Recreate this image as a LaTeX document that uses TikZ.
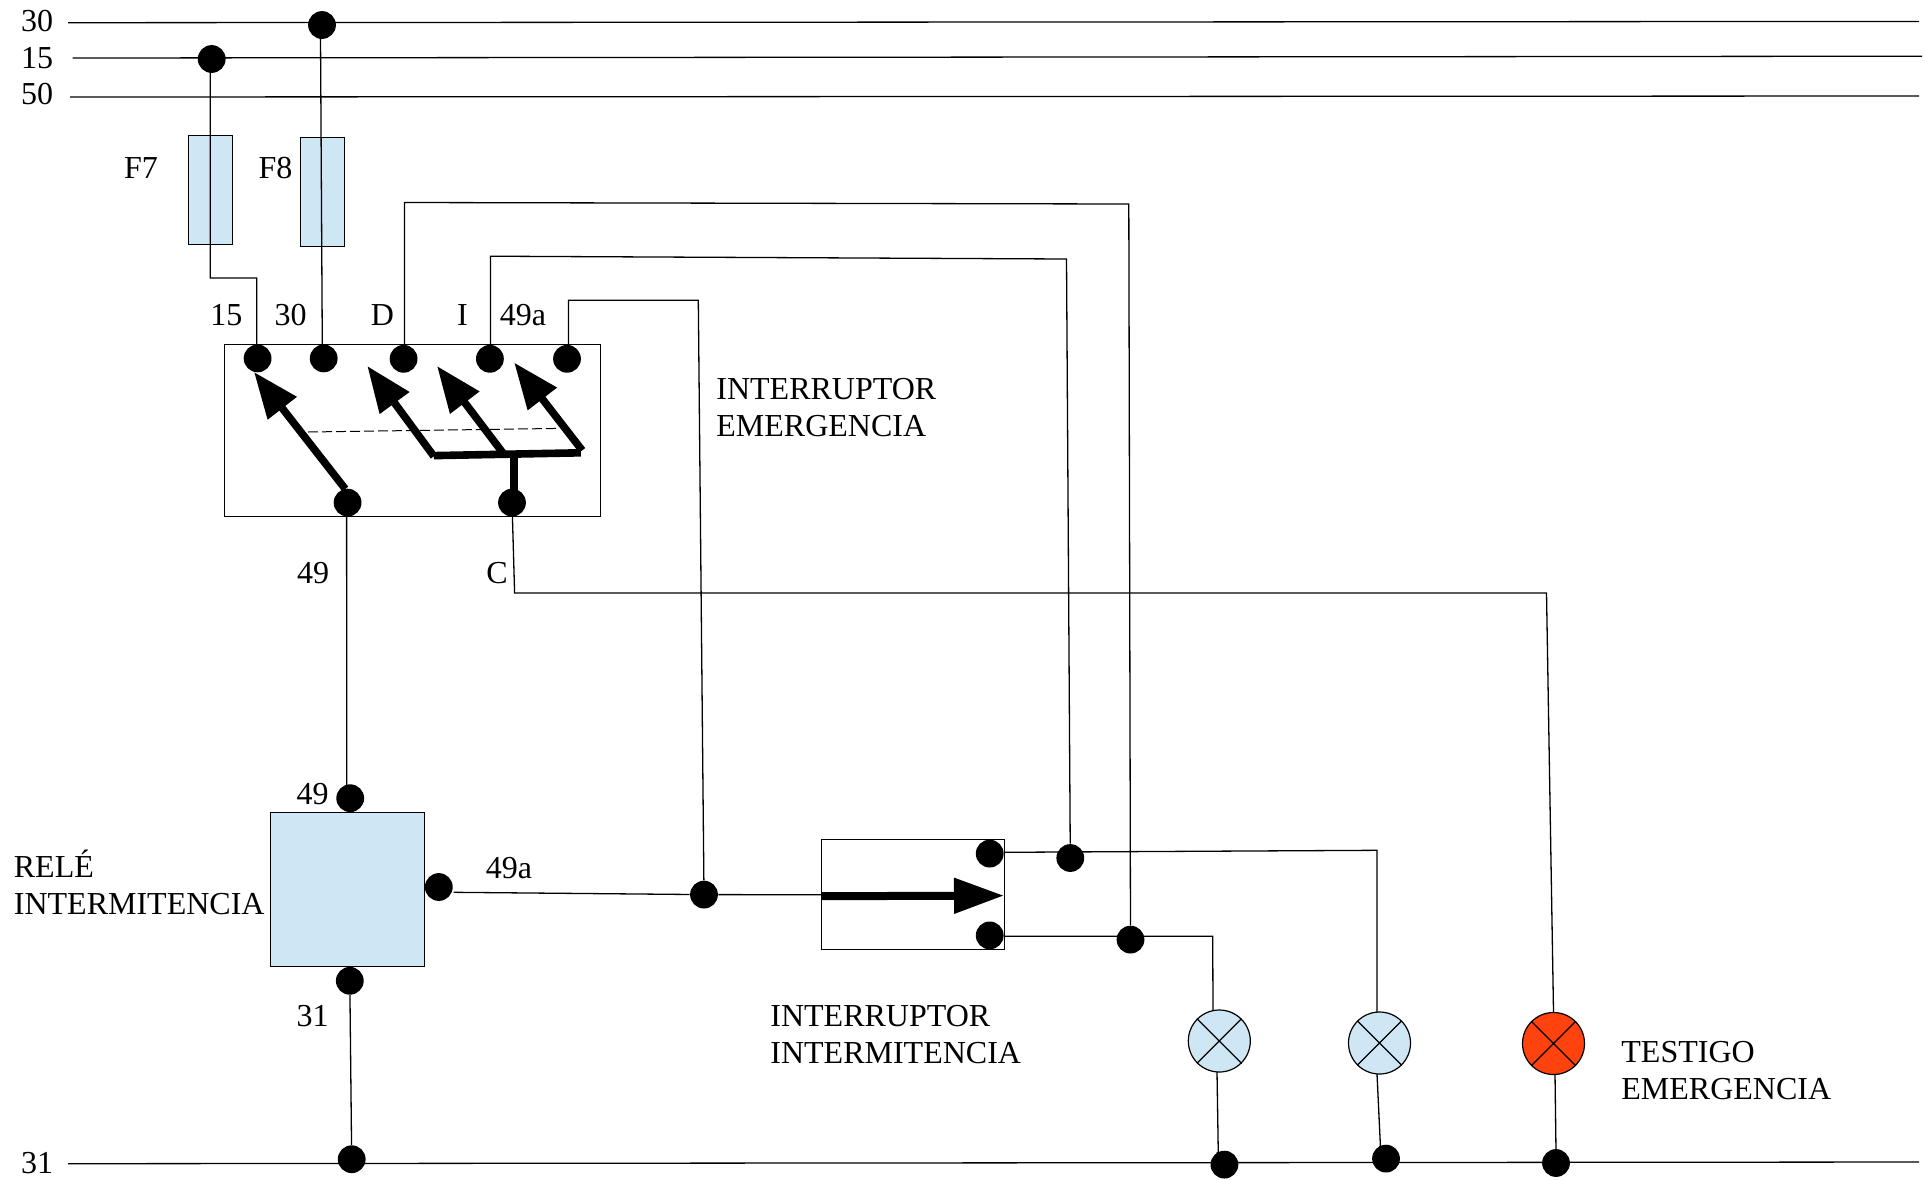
\documentclass[tikz,border=0pt]{standalone}
\usepackage{fontspec}
\setmainfont{Liberation Serif}
\usetikzlibrary{arrows.meta}
\definecolor{paleblue}{HTML}{CFE7F5}
\definecolor{lampred}{HTML}{FF420E}
\tikzset{
  wire/.style={draw=black,line width=0.65pt},
  dot/.style={circle,fill=black,draw=none,inner sep=0pt,minimum size=13.9pt},
  lamp/.style={circle,draw=black,line width=0.6pt,inner sep=0pt,minimum size=31pt},
  lampx/.style={draw=black,line width=0.6pt},
  fuse/.style={rectangle,draw=black,line width=0.6pt,fill=paleblue,inner sep=0pt,minimum width=22pt,minimum height=54.2pt},
  swbox/.style={rectangle,draw=black,line width=0.65pt,fill=white,inner sep=0pt},
  relay/.style={rectangle,draw=black,line width=0.6pt,fill=paleblue,inner sep=0pt,minimum width=76.9pt,minimum height=76.9pt},
  lab/.style={anchor=base,inner sep=0pt,font=\fontsize{16}{18.25}\selectfont},
  mlab/.style={anchor=north west,inner sep=0pt,align=left,font=\fontsize{16}{18.25}\selectfont},
  contact/.style={line width=3.8pt,-{Triangle[length=23pt,width=17.5pt]}},
  bar/.style={line width=3.8pt},
  mainarrow/.style={line width=4pt,-{Triangle[length=25pt,width=17pt]}}
}
\begin{document}
\begin{tikzpicture}[x=0.5pt,y=-0.5pt]
\useasboundingbox (0,0) rectangle (1926,1179);
% boxes
\node[fuse] (f7) at (210.2,190) {};
\node[fuse] (f8) at (322.3,192) {};
\node[swbox,minimum width=188pt,minimum height=85.9pt] (sw) at (412.5,430.6) {};
\node[relay] (rel) at (347.5,889.6) {};
\node[swbox,minimum width=91.6pt,minimum height=55pt] (iw) at (912.9,894.6) {};
% lamps
\node[lamp,fill=paleblue] (l1) at (1219.3,1041) {};
\node[lamp,fill=paleblue] (l2) at (1379.5,1043) {};
\node[lamp,fill=lampred] (l3) at (1553.5,1043.5) {};
\draw[lampx] (l1.135)--(l1.-45) (l1.45)--(l1.-135);
\draw[lampx] (l2.135)--(l2.-45) (l2.45)--(l2.-135);
\draw[lampx] (l3.135)--(l3.-45) (l3.45)--(l3.-135);
% dots
\node[dot] (b30) at (322,25) {};
\node[dot] (b15) at (211.7,59) {};
\node[dot] (t15) at (257.6,358.4) {};
\node[dot] (t30) at (323.7,358.4) {};
\node[dot] (tD) at (403.6,358.8) {};
\node[dot] (tI) at (489.9,358.8) {};
\node[dot] (t49a) at (567,358.8) {};
\node[dot] (s49) at (347.6,502.6) {};
\node[dot] (sC) at (512,502.6) {};
\node[dot] (r49) at (350.2,798.2) {};
\node[dot] (r49a) at (438.8,887) {};
\node[dot] (r31) at (349.8,980.8) {};
\node[dot] (b31) at (351.7,1159.2) {};
\node[dot] (j49a) at (704,894.6) {};
\node[dot] (i1) at (989.7,853.6) {};
\node[dot] (i2) at (989.7,935.4) {};
\node[dot] (jI) at (1070.3,858) {};
\node[dot] (jD) at (1130.5,939.6) {};
\node[dot] (g1) at (1224.4,1164.6) {};
\node[dot] (g2) at (1386,1158.6) {};
\node[dot] (g3) at (1556,1163) {};
% bus ends
\coordinate (bus30l) at (68,22.7); \coordinate (bus30r) at (1919,21.4);
\coordinate (bus15l) at (72.5,58); \coordinate (bus15r) at (1922,56.2);
\coordinate (bus50l) at (70,97); \coordinate (bus50r) at (1919,96);
\coordinate (bus31l) at (68,1163.7); \coordinate (bus31r) at (1919,1162);
\draw[wire] (bus30l)--(bus30r);
\draw[wire] (bus15l)--(bus15r);
\draw[wire] (bus50l)--(bus50r);
\draw[wire] (bus31l)--(bus31r);
% bends
\coordinate (w15a) at (210.3,278); \coordinate (w15b) at (256.7,278); \coordinate (w15c) at (256.7,344.4);
\coordinate (w15t) at (210.3,72);
\coordinate (w30t) at (320.5,36); \coordinate (w30b) at (322.3,344.4);
\coordinate (wDa) at (404.5,344.4); \coordinate (wDb) at (404.5,202.5); \coordinate (wDc) at (1128.8,204);
\coordinate (wIa) at (490.4,344.4); \coordinate (wIb) at (490.4,256.2); \coordinate (wIc) at (1066.5,259);
\coordinate (w49a) at (568.4,344.4); \coordinate (w49b) at (568.4,300.3); \coordinate (w49c) at (698.3,300.3);
\coordinate (w49t) at (346.6,516); \coordinate (w49e) at (346.8,785);
\coordinate (wCa) at (512.4,516); \coordinate (wCb) at (514.6,593); \coordinate (wCc) at (1546.5,593);
\coordinate (w49as) at (453.7,892.3); \coordinate (w49ae) at (821.3,894.7);
\coordinate (wTa) at (1004.5,852.3); \coordinate (wTb) at (1377,850.3); \coordinate (wTc) at (1377,1012);
\coordinate (wLa) at (1004.5,936.3); \coordinate (wLb) at (1212.7,936.3); \coordinate (wLc) at (1213,1010);
\coordinate (g1w) at (1218.3,1155); \coordinate (g2w) at (1380.5,1148); \coordinate (g3w) at (1556,1152);
\coordinate (l1b) at (1217,1071.7); \coordinate (l2b) at (1377,1074); \coordinate (l3b) at (1555,1074);
% wires
\draw[wire] (b15) -- (w15t) -- (w15a) -- (w15b) -- (w15c) -- (t15);
\draw[wire] (b30) -- (w30t) -- (w30b) -- (t30);
\draw[wire] (tD) -- (wDa) -- (wDb) -- (wDc) -- (jD);
\draw[wire] (tI) -- (wIa) -- (wIb) -- (wIc) -- (jI);
\draw[wire] (t49a) -- (w49a) -- (w49b) -- (w49c) -- (j49a);
\draw[wire] (s49) -- (w49t) -- (w49e) -- (r49);
\draw[wire] (sC) -- (wCa) -- (wCb) -- (wCc) -- (l3.north);
\draw[wire] (r31) -- (b31);
\draw[wire] (w49as) -- (j49a) -- (w49ae);
\draw[wire] (wTa) -- (wTb) -- (wTc);
\draw[wire] (wLa) -- (wLb) -- (wLc);
\draw[wire] (l1b) -- (g1w) -- (g1);
\draw[wire] (l2b) -- (g2w) -- (g2);
\draw[wire] (l3b) -- (g3w) -- (g3);
% emergency switch contacts
\coordinate (c1s) at (345.3,489); \coordinate (c1e) at (254,372);
\coordinate (c2s) at (433.9,456.3); \coordinate (c2e) at (367.3,366);
\coordinate (c3s) at (502.8,452.8); \coordinate (c3e) at (437,366);
\coordinate (c4s) at (582.2,450.4); \coordinate (c4e) at (514.2,362.6);
\coordinate (bara) at (433.9,455.6); \coordinate (barb) at (580.8,452.8);
\coordinate (stem) at (514.2,454);
\coordinate (stemb) at (514.2,495);
\coordinate (dasha) at (308,432); \coordinate (dashb) at (559,428.4);
\draw[line width=0.5pt,dash pattern=on 5pt off 2pt] (dasha) -- (dashb);
\draw[contact] (c1s) -- (c1e);
\draw[contact] (c2s) -- (c2e);
\draw[contact] (c3s) -- (c3e);
\draw[contact] (c4s) -- (c4e);
\draw[bar] (bara) -- (barb);
\draw[bar] (stem) -- (stemb);
% flasher switch arrow
\coordinate (ma) at (821.3,896.2); \coordinate (mb) at (1004,895.6);
\draw[mainarrow] (ma) -- (mb);
% labels
\node[lab] (n30) at (37,31) {30};
\node[lab] (n15) at (37,68) {15};
\node[lab] (n50) at (37,104) {50};
\node[lab] (nF7) at (141,178.4) {F7};
\node[lab] (nF8) at (275.5,178.4) {F8};
\node[lab] (p15) at (226.4,325.4) {15};
\node[lab] (p30) at (290.5,325.4) {30};
\node[lab] (pD) at (382.5,325.4) {D};
\node[lab] (pI) at (462.5,325.4) {I};
\node[lab] (p49a) at (523,325.4) {49a};
\node[lab] (q49) at (313,583) {49};
\node[lab] (qC) at (497,583) {C};
\node[lab] (r49l) at (312.7,804.3) {49};
\node[lab] (r49al) at (509,878) {49a};
\node[lab] (r31l) at (312.5,1026) {31};
\node[lab] (n31) at (37,1173) {31};
\node[mlab] (tie) at (716,378) {INTERRUPTOR\\EMERGENCIA};
\node[mlab] (trel) at (13.5,850) {RELÉ\\INTERMITENCIA};
\node[mlab] (tii) at (770,1005) {INTERRUPTOR\\INTERMITENCIA};
\node[mlab] (tte) at (1621,1041) {TESTIGO\\EMERGENCIA};
\end{tikzpicture}
\end{document}
